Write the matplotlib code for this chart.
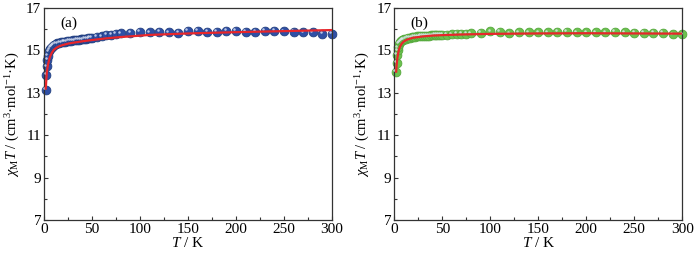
import matplotlib
matplotlib.use('Agg')
import matplotlib.pyplot as plt
import matplotlib.transforms as mtransforms
from matplotlib.ticker import MultipleLocator

plt.rcParams['font.family'] = 'Liberation Serif'
plt.rcParams['mathtext.fontset'] = 'custom'
plt.rcParams['mathtext.rm'] = 'Liberation Serif'
plt.rcParams['mathtext.it'] = 'Liberation Serif:italic'

# temperatures of measured points (K)
T_data = [2, 2.5, 3, 3.5, 4, 5, 6, 7, 8, 9, 10, 12, 14, 16, 18, 20, 22, 24, 26, 28,
          30, 32, 34, 36, 38, 40, 42, 44, 46, 48, 50, 55, 60, 65, 70, 75, 80, 90,
          100, 110, 120, 130, 140, 150, 160, 170, 180, 190, 200, 210, 220, 230,
          240, 250, 260, 270, 280, 290, 300]

chiT_a = [13.13, 13.85, 14.25, 14.55, 14.75, 14.95, 15.05, 15.12, 15.18, 15.22,
          15.25, 15.30, 15.33, 15.36, 15.38, 15.40, 15.42, 15.43, 15.45, 15.46,
          15.47, 15.48, 15.50, 15.51, 15.52, 15.53, 15.55, 15.56, 15.57, 15.58,
          15.60, 15.63, 15.67, 15.72, 15.75, 15.78, 15.80, 15.83,
          15.87, 15.85, 15.88, 15.85, 15.83, 15.91, 15.93, 15.87, 15.88, 15.91,
          15.93, 15.88, 15.88, 15.91, 15.93, 15.90, 15.88, 15.85, 15.85, 15.79, 15.79]

chiT_b = [14.00, 14.40, 14.78, 15.00, 15.15, 15.30, 15.38, 15.43, 15.47, 15.50,
          15.52, 15.55, 15.58, 15.60, 15.62, 15.64, 15.65, 15.66, 15.67, 15.68,
          15.68, 15.69, 15.70, 15.70, 15.71, 15.71, 15.72, 15.72, 15.73, 15.73,
          15.73, 15.75, 15.76, 15.77, 15.78, 15.79, 15.80, 15.82,
          15.90, 15.87, 15.80, 15.85, 15.85, 15.85, 15.86, 15.88, 15.87, 15.85,
          15.85, 15.85, 15.86, 15.87, 15.85, 15.83, 15.82, 15.82, 15.82, 15.76, 15.76]

# fitted curves
T_fit_a = [1.8, 2.5, 3, 4, 5, 6, 8, 10, 13, 16, 20, 25, 30, 40, 50, 65, 80, 110, 150, 200, 250, 300]
fit_a = [13.20, 13.70, 14.00, 14.30, 14.50, 14.68, 14.88, 15.02, 15.13, 15.20, 15.26,
         15.32, 15.36, 15.43, 15.49, 15.57, 15.63, 15.73, 15.80, 15.86, 15.91, 15.96]

T_fit_b = [2, 2.5, 3, 4, 5, 6, 8, 10, 13, 16, 20, 30, 40, 50, 70, 100, 150, 200, 250, 300]
fit_b = [14.00, 14.30, 14.55, 14.85, 15.05, 15.18, 15.33, 15.42, 15.50, 15.55, 15.60,
         15.66, 15.70, 15.72, 15.75, 15.78, 15.80, 15.81, 15.80, 15.79]

y_ticks = [7, 9, 11, 13, 15, 17]

panels = [
    ('(a)', T_data, chiT_a, T_fit_a, fit_a, '#2f4fa6', '#23407f'),
    ('(b)', T_data, chiT_b, T_fit_b, fit_b, '#6cc24f', '#55a83c'),
]
ax_lefts = [0.063, 0.564]

fig = plt.figure(figsize=(6.99, 2.58), dpi=100)

for (label, x, y, xf, yf, col, edge), left in zip(panels, ax_lefts):
    ax = fig.add_axes([left, 0.147, 0.412, 0.822])
    ax.plot(x, y, 'o', ms=6.3, mfc=col, mec=edge, mew=0.6, zorder=2, clip_on=False)
    # small light spot on each sphere
    shift = mtransforms.ScaledTranslation(-1.2 / 72, 1.2 / 72, fig.dpi_scale_trans)
    ax.plot(x, y, 'o', ms=1.8, mfc='#dfe6f5', mec='none', alpha=0.8,
            transform=ax.transData + shift, zorder=3, clip_on=False)
    ax.plot(xf, yf, '-', color='#e8262a', lw=1.6, zorder=4)

    ax.set_xlim(0, 300)
    ax.set_ylim(7, 17)
    ax.xaxis.set_major_locator(MultipleLocator(50))
    ax.xaxis.set_minor_locator(MultipleLocator(25))
    ax.set_yticks(y_ticks)
    ax.yaxis.set_minor_locator(MultipleLocator(1))
    ax.tick_params(which='both', direction='in', colors='#333333', labelcolor='black',
                   labelsize=11, pad=2)
    ax.tick_params(which='major', length=3, width=0.8)
    ax.tick_params(which='minor', length=2, width=0.8)
    for s in ax.spines.values():
        s.set_color('#333333')
        s.set_linewidth(0.9)
    ax.set_xlabel(r'$T$ / K', fontsize=11, labelpad=0)
    ax.set_ylabel(r'$\chi_{\rm M}T$ / (cm$^3$·mol$^{-1}$·K)', fontsize=10.5, labelpad=3)
    ax.text(0.055, 0.93, label, transform=ax.transAxes, fontsize=11, va='center')

plt.savefig('out.png', dpi=100)
